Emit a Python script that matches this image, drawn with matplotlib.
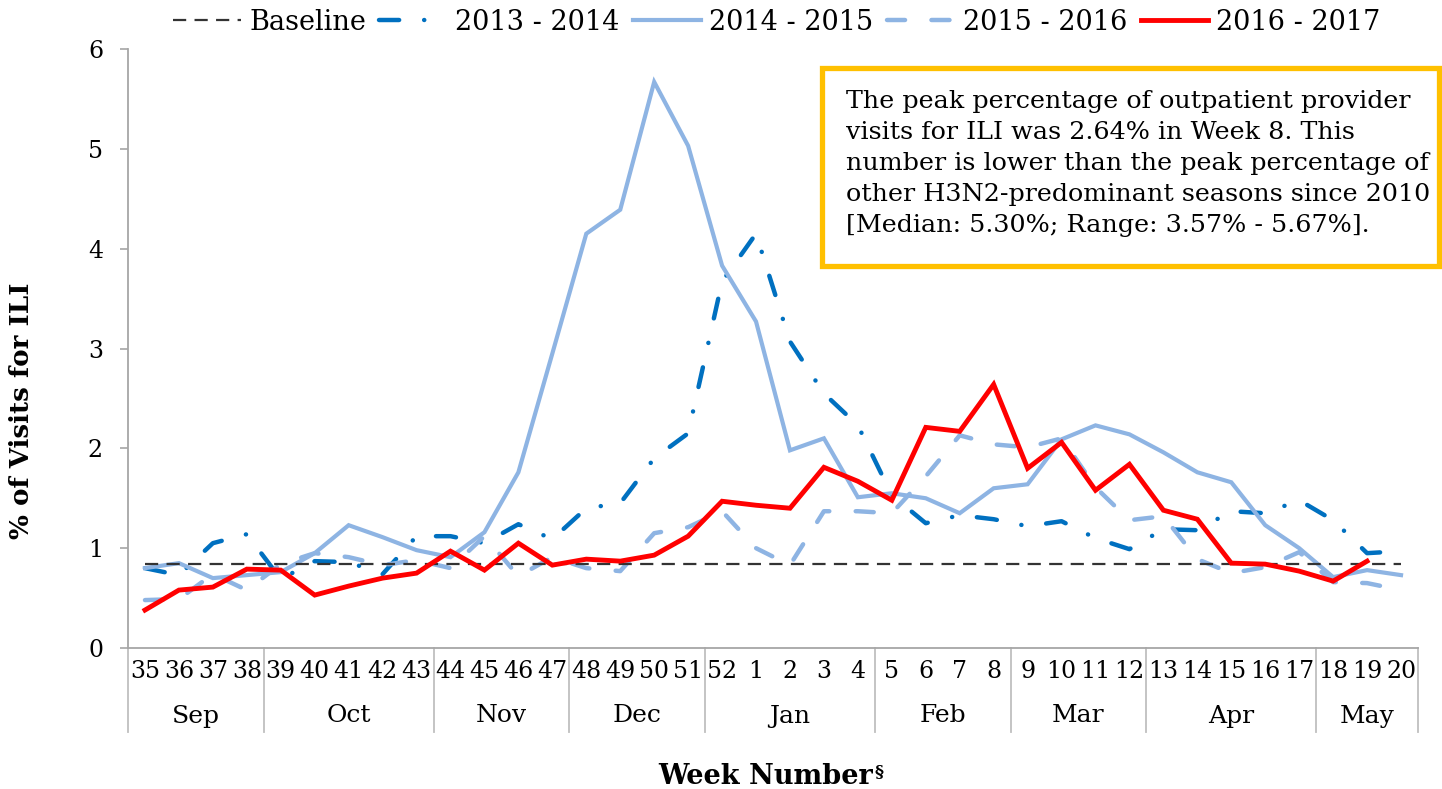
import matplotlib
matplotlib.use('Agg')
import matplotlib.pyplot as plt
from matplotlib.patches import Rectangle

plt.rcParams['font.family'] = ['DejaVu Serif']
plt.rcParams['lines.scale_dashes'] = False

# ---------------- data ----------------
weeks = ['35', '36', '37', '38', '39', '40', '41', '42', '43', '44', '45', '46', '47',
         '48', '49', '50', '51', '52', '1', '2', '3', '4', '5', '6', '7', '8', '9', '10',
         '11', '12', '13', '14', '15', '16', '17', '18', '19', '20']
months = ['Sep', 'Oct', 'Nov', 'Dec', 'Jan', 'Feb', 'Mar', 'Apr', 'May']
month_counts = [4, 5, 4, 4, 5, 4, 4, 5, 3]

baseline_value = 0.84

s2013_2014 = [0.80, 0.73, 1.05, 1.14, 0.69, 0.87, 0.86, 0.74, 1.12, 1.12, 1.05, 1.24, 1.09,
              1.40, 1.45, 1.90, 2.15, 3.67, 4.15, 3.07, 2.55, 2.23, 1.53, 1.25, 1.33, 1.29,
              1.22, 1.27, 1.10, 0.99, 1.19, 1.18, 1.37, 1.35, 1.48, 1.28, 0.95, 0.97]
s2014_2015 = [0.80, 0.85, 0.70, 0.73, 0.76, 0.95, 1.23, 1.11, 0.98, 0.91, 1.16, 1.76, 2.95,
              4.15, 4.39, 5.67, 5.03, 3.83, 3.27, 1.98, 2.10, 1.51, 1.55, 1.50, 1.35, 1.60,
              1.64, 2.09, 2.23, 2.14, 1.96, 1.76, 1.66, 1.23, 1.00, 0.71, 0.78, 0.73]
s2015_2016 = [0.48, 0.49, 0.74, 0.58, 0.84, 0.95, 0.91, 0.83, 0.88, 0.80, 1.12, 0.72, 0.91,
              0.80, 0.77, 1.15, 1.21, 1.37, 1.00, 0.83, 1.37, 1.37, 1.35, 1.72, 2.13, 2.04,
              2.01, 2.10, 1.61, 1.28, 1.32, 0.89, 0.75, 0.81, 0.96, 0.66, 0.65, 0.58]
s2016_2017 = [0.38, 0.58, 0.61, 0.79, 0.78, 0.53, 0.62, 0.70, 0.75, 0.97, 0.78, 1.05, 0.83,
              0.89, 0.87, 0.93, 1.12, 1.47, 1.43, 1.40, 1.81, 1.67, 1.48, 2.21, 2.17, 2.64,
              1.80, 2.06, 1.58, 1.84, 1.38, 1.29, 0.85, 0.84, 0.77, 0.67, 0.87]

y_ticks = [0, 1, 2, 3, 4, 5, 6]

note_lines = [
    "The peak percentage of outpatient provider",
    "visits for ILI was 2.64% in Week 8. This",
    "number is lower than the peak percentage of",
    "other H3N2-predominant seasons since 2010",
    "[Median: 5.30%; Range: 3.57% - 5.67%].",
]

# ---------------- figure ----------------
W, H = 1442, 789
fig = plt.figure(figsize=(W / 100, H / 100), dpi=100)
fig.patch.set_facecolor('white')

ax_l, ax_r, ax_t, ax_b = 128, 1418, 49, 648
ax = fig.add_axes([ax_l / W, 1 - ax_b / H, (ax_r - ax_l) / W, (ax_b - ax_t) / H])

n = len(weeks)
x_all = list(range(n))

l_base, = ax.plot([0, n - 1], [baseline_value, baseline_value], color='#333333', lw=1.6,
                  dashes=(9.5, 6.0), zorder=4, label='Baseline')
l13, = ax.plot(x_all, s2013_2014, color='#0070C0', lw=3.2, dashes=(14.5, 18.0, 0.1, 18.0),
               dash_capstyle='round', solid_joinstyle='round', zorder=2, label='2013 - 2014')
l14, = ax.plot(x_all, s2014_2015, color='#8EB4E3', lw=3.0, solid_joinstyle='miter',
               zorder=3, label='2014 - 2015')
l15, = ax.plot(x_all, s2015_2016, color='#8EB4E3', lw=3.2, dashes=(13.0, 19.0),
               dash_capstyle='round', zorder=3, label='2015 - 2016')
l16, = ax.plot(list(range(len(s2016_2017))), s2016_2017, color='#FF0000', lw=3.5,
               solid_joinstyle='miter', zorder=5, label='2016 - 2017')

ax.set_xlim(-0.5, n - 0.5)
ax.set_ylim(0, 6)
ax.set_yticks(y_ticks)
ax.set_yticklabels([str(v) for v in y_ticks], fontsize=17)
ax.set_xticks(x_all)
ax.set_xticklabels(weeks, fontsize=17)
ax.tick_params(axis='x', length=0, pad=9)
ax.tick_params(axis='y', length=6, width=1.2, color='#A6A6A6', pad=12, direction='out')

for side in ['top', 'right']:
    ax.spines[side].set_visible(False)
for side in ['left', 'bottom']:
    ax.spines[side].set_color('#A6A6A6')
    ax.spines[side].set_linewidth(1.3)

# multi-level category axis
ax_h = ax_b - ax_t
trans = ax.get_xaxis_transform()
sep_bottom = -(732 - ax_b) / ax_h
month_y = -(716 - ax_b) / ax_h
start = 0
ax.plot([-0.5, -0.5], [0, sep_bottom], transform=trans, color='#BFBFBF', lw=1.3, clip_on=False)
for m, c in zip(months, month_counts):
    end = start + c
    ax.plot([end - 0.5, end - 0.5], [0, sep_bottom], transform=trans, color='#BFBFBF',
            lw=1.3, clip_on=False)
    ax.text((start + end - 1) / 2, month_y, m, transform=trans, ha='center', va='center',
            fontsize=18)
    start = end

# axis titles
fig.text(22 / W, 1 - 411 / H, '% of Visits for ILI', rotation=90, fontweight='bold',
         fontsize=18.8, ha='center', va='center')
fig.text(873 / W, 1 - 784 / H, 'Week Number', fontweight='bold', fontsize=19.5,
         ha='right', va='baseline')
fig.text(875 / W, 1 - 776 / H, '§', fontweight='bold', fontsize=12.5, ha='left', va='baseline')

# legend
fig.legend(handles=[l_base, l13, l14, l15, l16], loc='center',
           bbox_to_anchor=(777 / W, 1 - 22 / H), ncol=5, frameon=False, fontsize=19.5,
           handlelength=2.5, handletextpad=0.3, columnspacing=0.5, borderaxespad=0,
           borderpad=0)

# annotation box
box_l, box_r, box_t, box_b = 822, 1439, 68, 266
fig.patches.append(Rectangle((box_l / W, 1 - box_b / H), (box_r - box_l) / W,
                             (box_b - box_t) / H, transform=fig.transFigure,
                             facecolor='white', edgecolor='#FFC000', lw=3.8, zorder=6))
baselines_px = [108, 139, 170, 201, 232]
fig.canvas.draw()
renderer = fig.canvas.get_renderer()
texts = []
for line, yb in zip(note_lines, baselines_px):
    t = fig.text(846 / W, 1 - yb / H, line, fontsize=16, ha='left', va='baseline', zorder=7)
    texts.append(t)
widest = max(t.get_window_extent(renderer).width for t in texts)
fs = 16 * 584 / widest
for t in texts:
    t.set_fontsize(fs)

fig.savefig('out.png', dpi=100, facecolor='white')
